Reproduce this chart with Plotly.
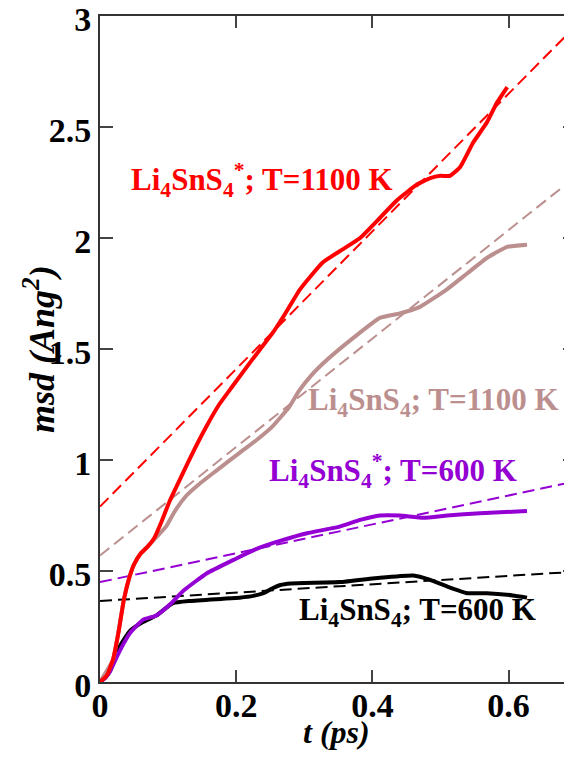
import plotly.graph_objects as go

# ---- data ----
t_red = [0, 0.01, 0.019, 0.027, 0.035, 0.043, 0.05, 0.06, 0.07, 0.08, 0.09, 0.103, 0.12, 0.139,
         0.156, 0.175, 0.194, 0.223, 0.253, 0.27, 0.294, 0.327, 0.357, 0.382, 0.411, 0.436,
         0.465, 0.485, 0.5, 0.514, 0.529, 0.548, 0.568, 0.583, 0.598]
msd_red = [0, 0.03, 0.10, 0.22, 0.37, 0.47, 0.53, 0.58, 0.61, 0.65, 0.72, 0.82, 0.93, 1.05,
           1.15, 1.25, 1.33, 1.45, 1.57, 1.65, 1.77, 1.89, 1.95, 2.0, 2.09, 2.17,
           2.24, 2.27, 2.28, 2.28, 2.32, 2.43, 2.52, 2.61, 2.68]

t_brown = [0, 0.019, 0.035, 0.043, 0.05, 0.06, 0.07, 0.082, 0.097, 0.11, 0.127, 0.145, 0.17,
           0.204, 0.23, 0.253, 0.278, 0.292, 0.31, 0.333, 0.372, 0.411, 0.44, 0.47, 0.51,
           0.539, 0.568, 0.598, 0.627]
msd_brown = [0, 0.10, 0.37, 0.47, 0.53, 0.58, 0.61, 0.65, 0.70, 0.77, 0.84, 0.89, 0.95,
             1.03, 1.09, 1.15, 1.24, 1.31, 1.38, 1.45, 1.55, 1.64, 1.66, 1.69, 1.77,
             1.84, 1.91, 1.96, 1.97]

t_purple = [0, 0.008, 0.015, 0.029, 0.044, 0.063, 0.083, 0.103, 0.122, 0.157, 0.196, 0.23,
            0.269, 0.304, 0.352, 0.382, 0.411, 0.44, 0.475, 0.51, 0.558, 0.627]
msd_purple = [0, 0.02, 0.05, 0.14, 0.22, 0.28, 0.30, 0.35, 0.41, 0.49, 0.55, 0.60,
              0.64, 0.67, 0.70, 0.73, 0.75, 0.75, 0.74, 0.75, 0.76, 0.77]

t_black = [0, 0.008, 0.015, 0.029, 0.044, 0.063, 0.083, 0.107, 0.132, 0.181, 0.205, 0.225,
           0.24, 0.252, 0.265, 0.28, 0.352, 0.411, 0.46, 0.485, 0.51, 0.539, 0.568, 0.606,
           0.627]
msd_black = [0, 0.02, 0.05, 0.16, 0.23, 0.27, 0.30, 0.355, 0.365, 0.375, 0.38, 0.388,
             0.40, 0.42, 0.437, 0.444, 0.45, 0.47, 0.48, 0.46, 0.43, 0.40, 0.40, 0.39,
             0.38]

# linear fits (end points)
t_fit = [0, 0.7]
fit_red = [0.79, 2.96]
fit_brown = [0.57, 2.28]
fit_purple = [0.45, 0.905]
fit_black = [0.365, 0.497]

x_ticks = [0, 0.2, 0.4, 0.6]
x_ticklabels = ["0", "0.2", "0.4", "0.6"]
y_ticks = [0, 0.5, 1, 1.5, 2, 2.5, 3]
y_ticklabels = ["0", "0.5", "1", "1.5", "2", "2.5", "3"]

labels = ["Li<sub>4</sub>SnS<sub>4</sub><sup>*</sup>; T=1100 K",
          "Li<sub>4</sub>SnS<sub>4</sub>; T=1100 K",
          "Li<sub>4</sub>SnS<sub>4</sub><sup>*</sup>; T=600 K",
          "Li<sub>4</sub>SnS<sub>4</sub>; T=600 K"]
label_t = [0.238, 0.49, 0.43, 0.466]
label_msd = [2.26, 1.26, 0.95, 0.315]

x_title = "<b><i>t (ps)</i></b>"
y_title = "<b><i>msd (Ang<sup>2</sup>)</i></b>"

RED, BROWN, PURPLE, BLACK = "#ff0000", "#bc8f8f", "#9400d3", "#000000"
colors = [RED, BROWN, PURPLE, BLACK]

fig = go.Figure()
fits = [fit_red, fit_brown, fit_purple, fit_black]
for f, c in zip(fits, colors):
    fig.add_trace(go.Scatter(x=t_fit, y=f, mode="lines",
                             line=dict(color=c, width=2, dash="12px,6px"),
                             showlegend=False, hoverinfo="skip"))
curves = [(t_black, msd_black, BLACK), (t_purple, msd_purple, PURPLE),
          (t_brown, msd_brown, BROWN), (t_red, msd_red, RED)]
for tx, my, c in curves:
    fig.add_trace(go.Scatter(x=tx, y=my, mode="lines",
                             line=dict(color=c, width=4, shape="spline", smoothing=0.4),
                             showlegend=False))

# invisible trace on yaxis2 for right-hand ticks
fig.add_trace(go.Scatter(x=[0], y=[0], yaxis="y2", mode="markers",
                         marker=dict(opacity=0), showlegend=False, hoverinfo="skip"))

serif = "Liberation Serif"
for txt, tx, ty, c in zip(labels, label_t, label_msd, colors):
    fig.add_annotation(x=tx, y=ty, text="<b>" + txt + "</b>", showarrow=False,
                       font=dict(family=serif, size=31, color=c),
                       xanchor="center", yanchor="middle")

# axis titles
fig.add_annotation(x=0.5, y=0, xref="paper", yref="paper", text=x_title,
                   showarrow=False, yanchor="middle", xanchor="center", yshift=-50,
                   font=dict(family=serif, size=32, color="black"))
fig.add_annotation(x=0, y=0.5, xref="paper", yref="paper", text=y_title,
                   showarrow=False, textangle=-90, yanchor="middle", xanchor="center",
                   xshift=-61, font=dict(family=serif, size=36, color="black"))

# page body has an 8px margin: the figure is sized to fit the window
fig.update_layout(
    width=564, height=749,
    margin=dict(l=92, r=0, t=8, b=75, autoexpand=False),
    plot_bgcolor="white", paper_bgcolor="white",
    font=dict(family=serif, color="black"),
    xaxis=dict(range=[0, 0.6931], tickvals=x_ticks, automargin=False,
               ticktext=["<b>%s</b>" % s for s in x_ticklabels],
               ticks="inside", ticklen=12, tickwidth=1.5, tickcolor="#444",
               ticklabelstandoff=-8, ticklabeloverflow="allow",
               showline=True, linewidth=2, linecolor="#333", mirror="ticks",
               showgrid=False, zeroline=False,
               tickfont=dict(family=serif, size=34, color="black")),
    yaxis=dict(range=[0, 3], tickvals=y_ticks, automargin=False,
               ticktext=["<b>%s</b>" % s for s in y_ticklabels],
               ticks="inside", ticklen=13, tickwidth=1.5, tickcolor="#444",
               ticklabeloverflow="allow", ticklabelshift=3,
               showline=True, linewidth=2, linecolor="#333",
               showgrid=False, zeroline=False,
               tickfont=dict(family=serif, size=34, color="black")),
    yaxis2=dict(range=[0, 3], overlaying="y", side="right", tickvals=y_ticks,
                automargin=False,
                ticks="inside", ticklen=9, tickwidth=1.5, tickcolor="#444",
                showticklabels=False, showline=False, showgrid=False, zeroline=False),
)

fig.write_html("out.html")
